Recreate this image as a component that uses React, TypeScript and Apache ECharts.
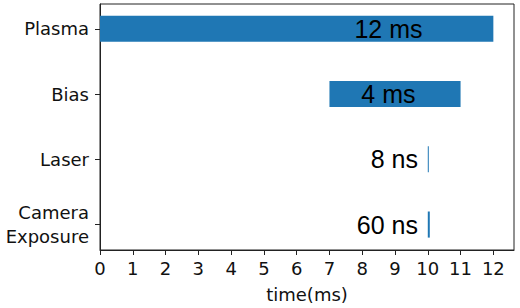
import React, { useEffect, useRef } from "react";
import * as echarts from "echarts";

const categories = ["Plasma", "Bias", "Laser", "Camera\nExposure"];
const starts = [0, 7, 10, 10]; // ms
const durations = [12, 4, 8e-6, 60e-6]; // ms
const labels = ["12 ms", "4 ms", "8 ns", "60 ns"];
const labelAt = [8.8, 8.8, 9.7, 9.7]; // ms, where each annotation sits
const xTicks = [0, 1, 2, 3, 4, 5, 6, 7, 8, 9, 10, 11, 12];
const rowIndex = [0, 1, 2, 3];

export default function App() {
  const ref = useRef<HTMLDivElement>(null);
  useEffect(() => {
    if (!ref.current) return;
    const chart = echarts.init(ref.current, null, { renderer: "svg" });
    const data = rowIndex.map((i) => [starts[i], durations[i], i, labelAt[i]]);
    chart.setOption({
      animation: false,
      grid: {
        left: 100,
        right: 6,
        top: 4,
        bottom: 56,
        show: true,
        borderColor: "#222",
        borderWidth: 1,
        backgroundColor: "transparent",
      },
      xAxis: {
        type: "value",
        min: 0,
        max: 12.63,
        name: "time(ms)",
        nameLocation: "middle",
        nameGap: 35,
        nameTextStyle: { fontFamily: "DejaVu Sans", fontSize: 18, color: "#111" },
        axisLine: { show: true, onZero: false, lineStyle: { color: "#222", width: 1 } },
        axisTick: { show: true, length: 5, customValues: xTicks, lineStyle: { color: "#222" } },
        axisLabel: {
          customValues: xTicks,
          margin: 9,
          fontFamily: "DejaVu Sans",
          fontSize: 18,
          color: "#111",
        },
        splitLine: { show: false },
      },
      yAxis: {
        type: "value",
        inverse: true,
        min: -0.38,
        max: 3.39,
        axisLine: { show: true, onZero: false, lineStyle: { color: "#222", width: 1 } },
        axisTick: { show: true, length: 5, customValues: rowIndex, lineStyle: { color: "#222" } },
        axisLabel: {
          customValues: rowIndex,
          margin: 11,
          fontFamily: "DejaVu Sans",
          fontSize: 18,
          lineHeight: 24,
          color: "#111",
          align: "right",
          formatter: (v: number) => categories[Math.round(v)] ?? "",
        },
        splitLine: { show: false },
      },
      series: [
        {
          type: "custom",
          data,
          encode: { x: [0], y: 2 },
          renderItem: (params: any, api: any) => {
            const s = api.value(0);
            const d = api.value(1);
            const row = api.value(2);
            const lx = api.value(3);
            const p0 = api.coord([s, row]);
            const p1 = api.coord([s + d, row]);
            const h = api.size([0, 0.4])[1];
            const minPx = d >= 5e-5 ? 2 : d > 0 && d < 1 ? 1 : 0;
            const w = Math.max(p1[0] - p0[0], minPx);
            const lp = api.coord([lx, row]);
            const isNs = labels[params.dataIndex].endsWith("ns");
            return {
              type: "group",
              children: [
                {
                  type: "rect",
                  shape: { x: p0[0], y: p0[1] - h / 2, width: w, height: h },
                  style: { fill: "#1f77b4" },
                },
                {
                  type: "text",
                  x: lp[0],
                  y: lp[1],
                  style: {
                    text: labels[params.dataIndex],
                    fontFamily: "Liberation Sans, Arial",
                    fontSize: 25,
                    fill: "#000",
                    align: isNs ? "right" : "center",
                    verticalAlign: "middle",
                  },
                },
              ],
            };
          },
        },
      ],
    });
    return () => chart.dispose();
  }, []);
  return (
    <div
      ref={ref}
      style={{ position: "fixed", left: 0, top: 0, width: 520, height: 308, background: "#fff" }}
    />
  );
}
